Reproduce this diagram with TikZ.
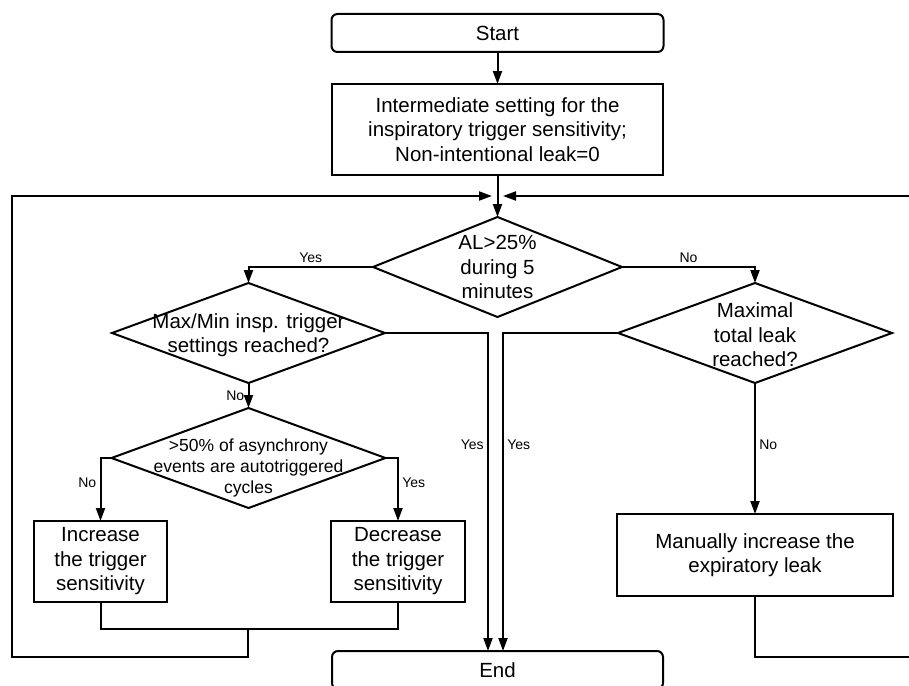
\documentclass[tikz,border=0pt]{standalone}
\usepackage{fontspec}
\setmainfont{Liberation Sans}
\usetikzlibrary{shapes, arrows.meta, calc, positioning}

\begin{document}
\begin{tikzpicture}[x=1pt,y=1pt,>={Triangle[length=13pt,width=9pt]},line width=2pt,
	font=\fontsize{20.5}{24.5}\selectfont]
	\tikzset{block/.style={draw,rectangle,align=center,outer sep=0pt,minimum height=81pt},
		term/.style={block,rounded corners=6pt,minimum width=332pt,minimum height=38pt},
		decision/.style={draw,diamond,outer sep=0pt,inner sep=0pt,minimum height=100pt},
		lbl/.style={font=\fontsize{14}{16}\selectfont}}
	\clip (0,0) rectangle (909,-685);
	\node[term] (start) at (497.5,-33) {Start};
	\node[block,minimum width=331pt,minimum height=91pt] (init) [below=32pt of start] {Intermediate setting for the\\inspiratory trigger sensitivity;\\Non-intentional leak=0};
	\node[decision,minimum width=249pt,label={[align=center]center:AL>25\%\\during 5\\minutes}] (al) [below=42pt of init] {};
	\node[decision,minimum width=273pt,label={[align=center,yshift=-2pt]center:Max/Min insp. trigger\\settings reached?}] (maxmin) at (248.5,-333) {};
	\node[decision,minimum width=274pt,label={[align=center,yshift=-2pt]center:Maximal\\total leak\\reached?}] (maxleak) at (755,-333) {};
	\node[decision,minimum width=274pt,label={[align=center,yshift=-10pt,font=\fontsize{17.5}{21}\selectfont]center:>50\% of asynchrony\\events are autotriggered\\cycles}] (async) [below=25pt of maxmin] {};
	\node[block,minimum width=133pt] (inc) at (100.5,-561.5) {Increase\\the trigger\\sensitivity};
	\node[block,minimum width=134pt] (dec) at (398,-561.5) {Decrease\\the trigger\\sensitivity};
	\node[block,minimum width=276pt,minimum height=82pt] (manual) [below=131pt of maxleak] {Manually increase the\\expiratory leak};
	\node[term,minimum width=331pt] (end) at (497.5,-670) {End};
	\coordinate (lin) at (492,-196);
	\coordinate (rin) at (503,-196);
	\coordinate (dl) at (488,-333);
	\coordinate (dr) at (503,-333);
	\coordinate (merge) at (247.5,-629);
	\coordinate (lback) at (12,-657);
	\coordinate (rback) at (930,-657);
	\path[->]
		(start)
			edge (init)
		(init)
			edge (al)
		(maxmin)
			edge node[lbl,left] {No} (async)
		(maxleak)
			edge node[lbl,right,pos=0.47] {No} (manual);
	\draw[->] (al.west) -| node[lbl,above,pos=0.25] {Yes} (maxmin.north);
	\draw[->] (al.east) -| node[lbl,above,pos=0.25] {No} (maxleak.north);
	\draw[->] (maxmin.east) -- (dl) -- node[lbl,left,pos=0.35] {Yes} (dl |- end.north);
	\draw[->] (maxleak.west) -- (dr) -- node[lbl,right,pos=0.35] {Yes} (dr |- end.north);
	\draw[->] (async.west) -| node[lbl,left,pos=0.7] {No} (inc.north);
	\draw[->] (async.east) -| node[lbl,right,pos=0.7] {Yes} (dec.north);
	\draw (inc.south) |- (merge) -| (dec.south);
	\draw[->] (merge) -- (merge |- lback) -- (lback) -- (lback |- lin) -- (lin);
	\draw[->] (manual.south) -- (manual.south |- rback) -- (rback) -- (rback |- rin) -- (rin);
\end{tikzpicture}
\end{document}
